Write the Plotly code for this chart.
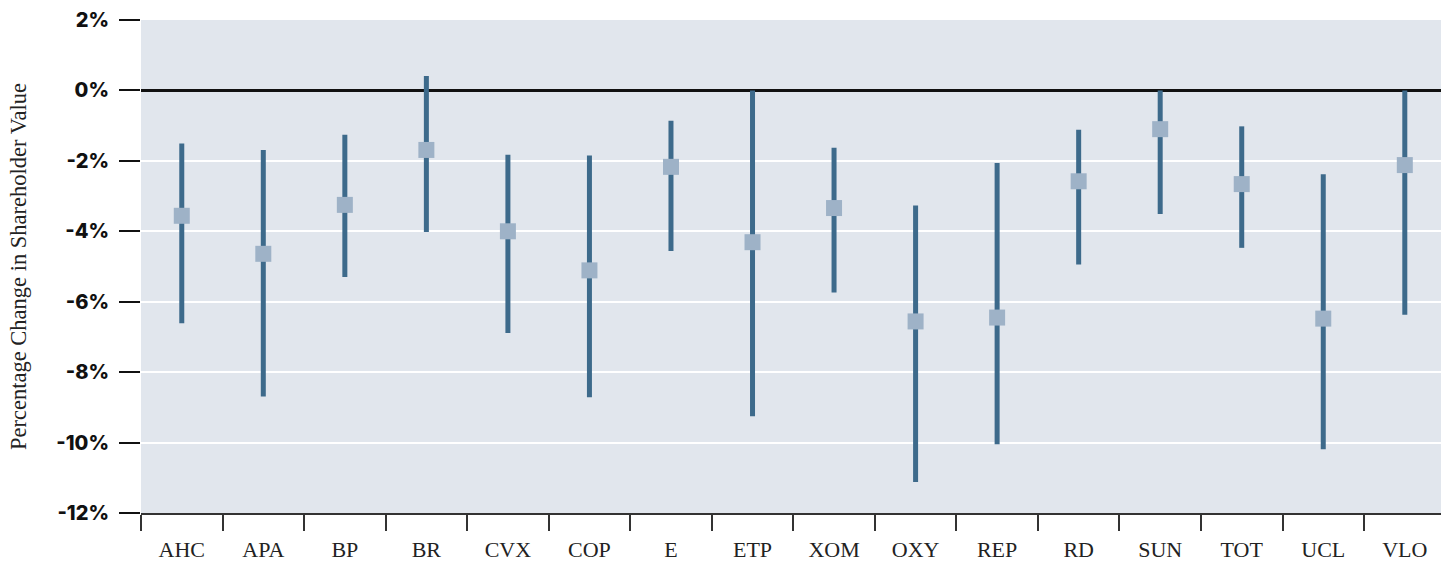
import plotly.graph_objects as go

companies = ["AHC", "APA", "BP", "BR", "CVX", "COP", "E", "ETP", "XOM", "OXY",
             "REP", "RD", "SUN", "TOT", "UCL", "VLO"]
mid_vals = [-3.56, -4.64, -3.25, -1.69, -4.00, -5.11, -2.17, -4.31, -3.34, -6.56,
            -6.45, -2.58, -1.10, -2.66, -6.48, -2.12]
low_vals = [-6.61, -8.69, -5.30, -4.02, -6.89, -8.71, -4.56, -9.25, -5.74, -11.12,
            -10.05, -4.94, -3.51, -4.47, -10.19, -6.37]
high_vals = [-1.51, -1.69, -1.26, 0.41, -1.83, -1.85, -0.86, 0.0, -1.63, -3.27,
             -2.06, -1.12, 0.0, -1.02, -2.38, 0.0]
y_ticks = [2, 0, -2, -4, -6, -8, -10, -12]
y_tick_text = ["2%", "0%", "-2%", "-4%", "-6%", "-8%", "-10%", "-12%"]
y_title = "Percentage Change in Shareholder Value"

err_plus = [h - m for h, m in zip(high_vals, mid_vals)]
err_minus = [m - l for m, l in zip(mid_vals, low_vals)]

fig = go.Figure()
fig.add_trace(go.Scatter(
    x=companies, y=mid_vals, mode="markers",
    marker=dict(symbol="square", size=16, color="#9eb2c7",
                line=dict(width=0)),
    error_y=dict(type="data", symmetric=False, array=err_plus,
                 arrayminus=err_minus, thickness=5, width=0,
                 color="#3d6a8b"),
    showlegend=False, hoverinfo="skip",
))

fig.update_layout(
    width=1441, height=562,
    margin=dict(l=141, r=0, t=20, b=49),
    paper_bgcolor="white",
    plot_bgcolor="#e1e6ed",
    xaxis=dict(
        type="category",
        range=[-0.5, 15.444],
        showgrid=False,
        showline=True, linecolor="#333333", linewidth=2,
        ticks="outside", tickson="boundaries", ticklen=16,
        tickcolor="#333333", tickwidth=1.5,
        tickfont=dict(family="Liberation Serif, Times New Roman, serif",
                      size=22, color="#222222"),
        ticklabelstandoff=16,
    ),
    yaxis=dict(
        range=[-12, 2],
        tickvals=y_ticks, ticktext=y_tick_text,
        showgrid=True, gridcolor="white", gridwidth=2,
        zeroline=True, zerolinecolor="#111111", zerolinewidth=2.5,
        showline=False,
        ticks="outside", ticklen=21, tickcolor="#111111", tickwidth=1.5,
        tickfont=dict(family="Inter, Open Sans, sans-serif", size=20,
                      color="#111111", weight=800),
        ticklabelstandoff=6,
        title=dict(text=y_title,
                   font=dict(family="Liberation Serif, Times New Roman, serif",
                             size=22.5, color="#222222"),
                   standoff=23),
    ),
)

fig.write_html("out.html",
               config={"displayModeBar": False},
               post_script="document.body.style.margin='0px';document.body.style.overflow='hidden';")
